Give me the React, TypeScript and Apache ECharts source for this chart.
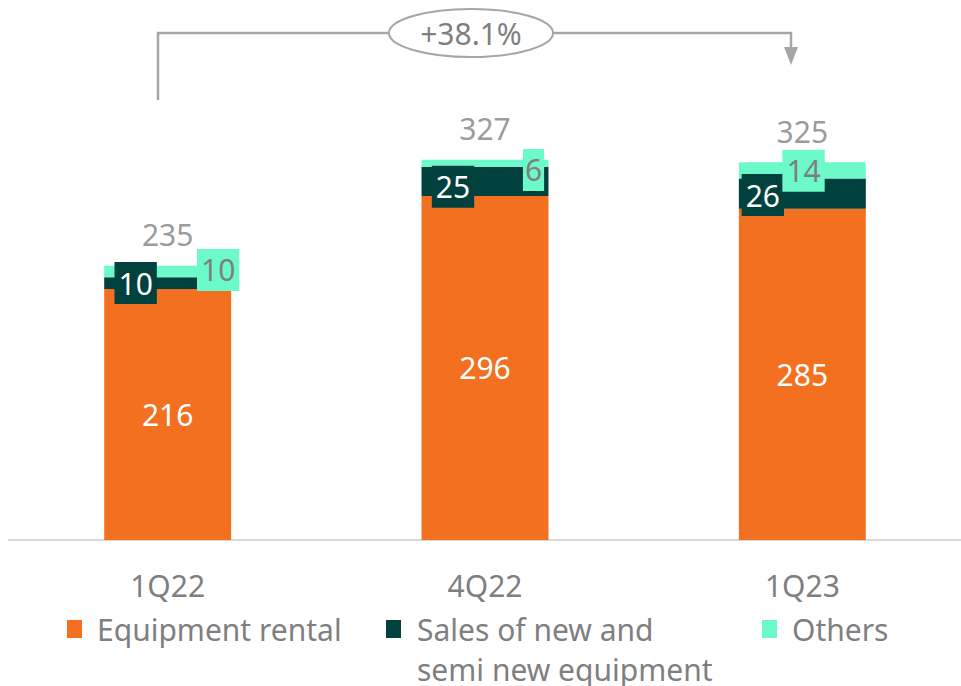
import React, { useEffect, useRef } from "react";
import * as echarts from "echarts";

const categories = ["1Q22", "4Q22", "1Q23"];
const equipmentRental = [216, 296, 285];
const salesNewSemiNew = [10, 25, 26];
const others = [10, 6, 14];
const totals = [235, 327, 325];
const growthLabel = "+38.1%";

const salesLabelOffsets = [[-32, 0], [-32, 5.5], [-39.5, 1.5]];
const othersLabelOffsets = [[50.5, -1.5], [48.5, 6.6], [1.2, 0.5]];

const ORANGE = "#F37021";
const DARK = "#00403D";
const AQUA = "#6CFACB";
const GRAY = "#7F7F7F";
const LINE = "#A6A6A6";
const FONT = "Noto Sans";

export default function App() {
  const ref = useRef<HTMLDivElement>(null);
  useEffect(() => {
    if (!ref.current) return;
    const chart = echarts.init(ref.current, undefined, { renderer: "svg" });
    const boxLabel = (bg: string, color: string, pad: number[]) => ({
      show: true,
      position: "inside",
      color,
      fontFamily: FONT,
      fontSize: 30,
      lineHeight: 34,
      backgroundColor: bg,
      padding: pad,
    });
    const legendBase = {
      padding: 0,
      icon: "rect",
      itemWidth: 15,
      itemHeight: 18,
      selectedMode: false,
    };
    chart.setOption({
      animation: false,
      grid: { left: 9, right: -4, top: 75, bottom: 146 },
      xAxis: {
        type: "category",
        data: categories,
        axisLine: { lineStyle: { color: "#D9D9D9", width: 2 } },
        axisTick: { show: false },
        axisLabel: { color: GRAY, fontFamily: FONT, fontSize: 30, lineHeight: 40, margin: 25 },
      },
      yAxis: { type: "value", min: 0, max: 400, show: false, splitLine: { show: false } },
      legend: [
        {
          ...legendBase,
          data: ["Equipment rental"],
          left: 67,
          top: 609,
          textStyle: { color: GRAY, fontFamily: FONT, fontSize: 30, lineHeight: 40, padding: [0, 0, 0, 10] },
        },
        {
          ...legendBase,
          data: ["Sales of new and semi new equipment"],
          left: 386,
          top: 569,
          formatter: () => "{e| }\n{a|Sales of new and}\n{a|semi new equipment}",
          textStyle: {
            color: GRAY,
            fontFamily: FONT,
            fontSize: 30,
            lineHeight: 40,
            padding: [0, 0, 0, 11],
            rich: {
              e: { fontSize: 30, lineHeight: 40, color: GRAY, fontFamily: FONT },
              a: { fontSize: 30, lineHeight: 40, color: GRAY, fontFamily: FONT },
            },
          },
        },
        {
          ...legendBase,
          data: ["Others"],
          left: 762,
          top: 609,
          textStyle: { color: GRAY, fontFamily: FONT, fontSize: 30, lineHeight: 40, padding: [0, 0, 0, 10] },
        },
      ],
      series: [
        {
          name: "Equipment rental",
          type: "bar",
          stack: "total",
          barWidth: "40%",
          itemStyle: { color: ORANGE },
          label: { show: true, position: "inside", color: "#FFFFFF", fontFamily: FONT, fontSize: 30 },
          data: equipmentRental,
        },
        {
          name: "Sales of new and semi new equipment",
          type: "bar",
          stack: "total",
          itemStyle: { color: DARK },
          data: salesNewSemiNew.map((v, i) => ({
            value: v,
            label: { ...boxLabel(DARK, "#FFFFFF", [4, 4]), offset: salesLabelOffsets[i] },
          })),
        },
        {
          name: "Others",
          type: "bar",
          stack: "total",
          itemStyle: { color: AQUA },
          data: others.map((v, i) => ({
            value: v,
            label: { ...boxLabel(AQUA, GRAY, v < 10 ? [4, 2] : [4, 4]), offset: othersLabelOffsets[i] },
          })),
        },
        {
          name: "Total",
          type: "scatter",
          symbolSize: 1,
          itemStyle: { color: "rgba(0,0,0,0)" },
          z: 5,
          label: {
            show: true,
            position: "inside",
            offset: [0, -31],
            color: GRAY,
            fontFamily: FONT,
            fontSize: 30,
            formatter: (p: any) => String(totals[p.dataIndex]),
          },
          data: equipmentRental.map((v, i) => v + salesNewSemiNew[i] + others[i]),
        },
      ],
      graphic: [
        {
          type: "text",
          left: 5,
          top: -31,
          style: { text: "MM", fill: "#004B45", font: `bold 30px "${FONT}"` },
        },
        {
          type: "polyline",
          shape: { points: [[158, 100], [158, 33], [791, 33], [791, 50]] },
          style: { stroke: LINE, lineWidth: 2.5, fill: null },
        },
        {
          type: "polygon",
          shape: { points: [[784, 47], [798, 47], [791, 65]] },
          style: { fill: LINE },
        },
        {
          type: "ellipse",
          shape: { cx: 471, cy: 33, rx: 82, ry: 24 },
          style: { fill: "#FFFFFF", stroke: LINE, lineWidth: 2 },
        },
        {
          type: "text",
          x: 471,
          y: 33,
          style: {
            text: growthLabel,
            fill: GRAY,
            font: `30px "${FONT}"`,
            align: "center",
            verticalAlign: "middle",
          },
        },
      ],
    });
    return () => chart.dispose();
  }, []);
  return (
    <div
      ref={ref}
      style={{ position: "fixed", left: 0, top: 0, width: 961, height: 686, background: "#FFFFFF" }}
    />
  );
}
